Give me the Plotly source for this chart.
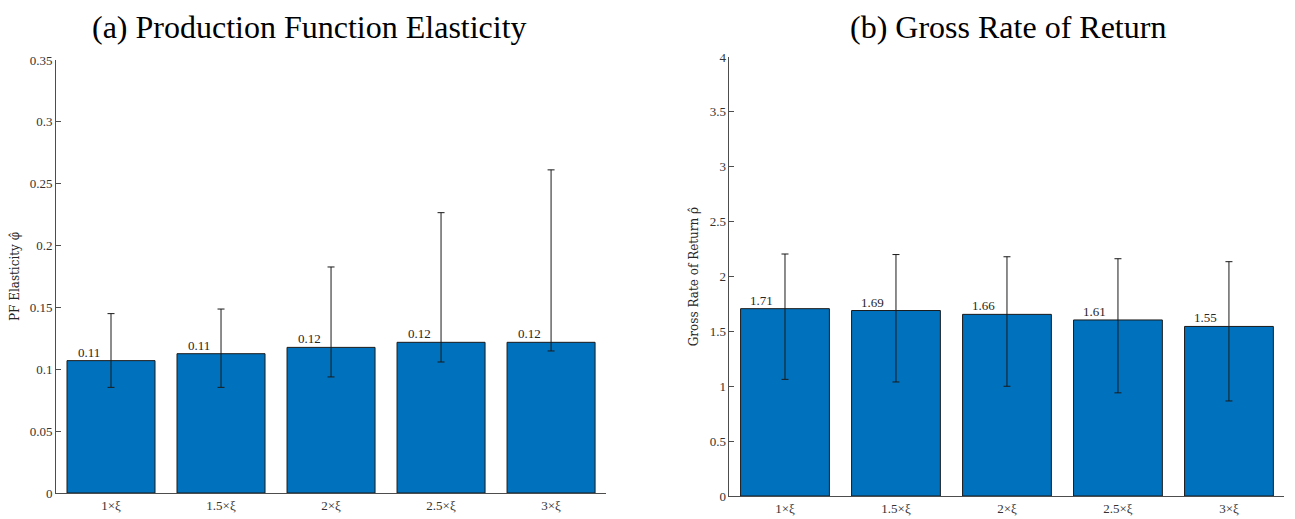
import plotly.graph_objects as go

categories = ["1×ξ", "1.5×ξ", "2×ξ", "2.5×ξ", "3×ξ"]

pf_values = [0.107, 0.1126, 0.1177, 0.1218, 0.1218]
pf_upper = [0.145, 0.1487, 0.1827, 0.2266, 0.2612]
pf_lower = [0.0854, 0.0854, 0.0938, 0.1059, 0.1148]
pf_labels = ["0.11", "0.11", "0.12", "0.12", "0.12"]

ror_values = [1.707, 1.69, 1.655, 1.604, 1.545]
ror_upper = [2.205, 2.20, 2.18, 2.162, 2.135]
ror_lower = [1.063, 1.039, 1.0, 0.94, 0.866]
ror_labels = ["1.71", "1.69", "1.66", "1.61", "1.55"]

pf_ticks = [0, 0.05, 0.1, 0.15, 0.2, 0.25, 0.3, 0.35]
pf_ticktext = ["0", "0.05", "0.1", "0.15", "0.2", "0.25", "0.3", "0.35"]
ror_ticks = [0, 0.5, 1, 1.5, 2, 2.5, 3, 3.5, 4]
ror_ticktext = ["0", "0.5", "1", "1.5", "2", "2.5", "3", "3.5", "4"]

FONT = "Liberation Serif"
BAR = "#0072BD"
AXC = "#4d4d4d"

fig = go.Figure()

def add_panel(vals, up, lo, xa, ya):
    fig.add_trace(go.Bar(
        x=categories, y=vals, xaxis=xa, yaxis=ya, width=0.8,
        marker=dict(color=BAR, line=dict(color="#1a1a1a", width=1)),
        error_y=dict(type="data", symmetric=False,
                     array=[u - v for u, v in zip(up, vals)],
                     arrayminus=[v - l for v, l in zip(vals, lo)],
                     color="#1a1a1a", thickness=1, width=3.5),
        showlegend=False, hoverinfo="skip"))

add_panel(pf_values, pf_upper, pf_lower, "x", "y")
add_panel(ror_values, ror_upper, ror_lower, "x2", "y2")

annotations = []
for c, v, t in zip(categories, pf_values, pf_labels):
    annotations.append(dict(x=c, y=v, xref="x", yref="y", text=t, showarrow=False,
                            xanchor="center", yanchor="bottom", xshift=-22, yshift=-1,
                            font=dict(family=FONT, size=13, color="#262626")))
for c, v, t in zip(categories, ror_values, ror_labels):
    annotations.append(dict(x=c, y=v, xref="x2", yref="y2", text=t, showarrow=False,
                            xanchor="center", yanchor="bottom", xshift=-23, yshift=-1,
                            font=dict(family=FONT, size=13, color="#262626")))
annotations.append(dict(x=0.2339, y=1.0, xref="paper", yref="paper",
                        text="(a) Production Function Elasticity", showarrow=False,
                        xanchor="center", yanchor="top", borderpad=0,
                        font=dict(family=FONT, size=32, color="black")))
annotations.append(dict(x=0.777, y=1.0, xref="paper", yref="paper",
                        text="(b) Gross Rate of Return", showarrow=False,
                        xanchor="center", yanchor="top", borderpad=0,
                        font=dict(family=FONT, size=32, color="black")))

xcommon = dict(type="category", range=[-0.5, 4.5], showline=True, linecolor=AXC,
               linewidth=1, ticks="", showgrid=False, zeroline=False, automargin=False,
               tickfont=dict(family=FONT, size=13, color="#333333"))
ycommon = dict(showline=True, linecolor=AXC, linewidth=1, ticks="inside",
               ticklen=5, tickcolor=AXC, showgrid=False, zeroline=False, automargin=False,
               tickfont=dict(family=FONT, size=13, color="#333333"))

# The page body has an 8px margin, so the figure is sized 8px smaller.
fig.update_layout(
    width=1287, height=511,
    margin=dict(l=0, r=0, t=0, b=0, autoexpand=False),
    paper_bgcolor="white", plot_bgcolor="white",
    bargap=0.2,
    xaxis=dict(domain=[0.0373, 0.4647], anchor="y", **xcommon),
    yaxis=dict(domain=[0.0509, 0.8982], anchor="x", range=[0, 0.35],
               tickvals=pf_ticks, ticktext=pf_ticktext,
               title=dict(text="PF Elasticity φ̂", standoff=11,
                          font=dict(family="DejaVu Serif", size=12, color="#262626")),
               **ycommon),
    xaxis2=dict(domain=[0.5606, 0.9918], anchor="y2", **xcommon),
    yaxis2=dict(domain=[0.0450, 0.9041], anchor="x2", range=[0, 4],
                tickvals=ror_ticks, ticktext=ror_ticktext,
                title=dict(text="Gross Rate of Return ρ̂", standoff=8,
                           font=dict(family="DejaVu Serif", size=12, color="#262626")),
                **ycommon),
    annotations=annotations,
)

fig.write_html("out.html")
